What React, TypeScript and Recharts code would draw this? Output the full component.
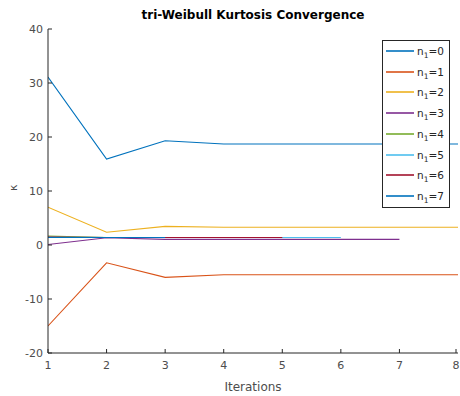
import { LineChart, Line, XAxis, YAxis, Legend } from 'recharts'

// iterations 1..8
const iterations = [1, 2, 3, 4, 5, 6, 7, 8]

// kurtosis per n1 case (shorter runs just stop early)
const n0 = [31.1, 15.9, 19.3, 18.7, 18.7, 18.7, 18.7, 18.7]
const n1 = [-15.0, -3.3, -6.0, -5.5, -5.5, -5.5, -5.5, -5.5]
const n2 = [7.0, 2.35, 3.45, 3.3, 3.3, 3.3, 3.3, 3.3]
const n3 = [0.1, 1.35, 1.05, 1.05, 1.05, 1.05, 1.05]
const n4 = [1.65, 1.4, 1.4]
const n5 = [1.45, 1.4, 1.4, 1.4, 1.4, 1.4]
const n6 = [1.45, 1.4, 1.4, 1.4, 1.4]
const n7 = [1.4, 1.38, 1.38]

const series = [n0, n1, n2, n3, n4, n5, n6, n7]
const labels = ['0', '1', '2', '3', '4', '5', '6', '7']
const COLORS = ['#0072BD', '#D95319', '#EDB120', '#7E2F8E', '#77AC30', '#4DBEEE', '#A2142F', '#0072BD']

const xTicks = [1, 2, 3, 4, 5, 6, 7, 8]
const yTicks = [-20, -10, 0, 10, 20, 30, 40]

const data = iterations.map((it, i) => {
  const row: Record<string, number | undefined> = { it }
  series.forEach((s, k) => { row['s' + k] = s[i] })
  return row
})

const FONT = '"DejaVu Sans", Verdana, sans-serif'
const AX = '#262626'
const TXT = '#4d4d4d'
const TL = 4 // tick length, drawn inward like matlab

const BottomTick = (p: any) => (
  <g>
    <line x1={p.x} x2={p.x} y1={p.y - 8} y2={p.y - 8 - TL} stroke={AX} />
    <text x={p.x} y={p.y} dy="0.71em" textAnchor="middle" fontSize={11} fill={TXT} fontFamily={FONT}>
      {p.payload.value}
    </text>
  </g>
)
const LeftTick = (p: any) => (
  <g>
    <line x1={p.x + 5} x2={p.x + 5 + TL} y1={p.y} y2={p.y} stroke={AX} />
    <text x={p.x} y={p.y} dy="0.355em" textAnchor="end" fontSize={11} fill={TXT} fontFamily={FONT}>
      {p.payload.value}
    </text>
  </g>
)
const TopTick = (p: any) => (
  <line x1={p.x} x2={p.x} y1={p.y} y2={p.y + TL} stroke={AX} />
)
const RightTick = (p: any) => (
  <line x1={p.x} x2={p.x - TL} y1={p.y} y2={p.y} stroke={AX} />
)

// matlab style legend box
const LegendBox = () => (
  <svg width={68} height={168} style={{ display: 'block' }}>
    <rect x={0.5} y={0.5} width={67} height={167} fill="#fff" stroke={AX} />
    {labels.map((l, k) => {
      const y = Math.round(11 + k * 20.7)
      return (
        <g key={k}>
          <line x1={4} x2={32} y1={y} y2={y} stroke={COLORS[k]} strokeWidth={1.6} />
          <text x={35} y={y} dy="0.35em" fontSize={10.5} fill="#262626" fontFamily={FONT}>
            n<tspan dy={3} fontSize={7.5}>1</tspan><tspan dy={-3}>={l}</tspan>
          </text>
        </g>
      )
    })}
  </svg>
)

export default function App() {
  return (
    <div style={{ position: 'absolute', left: 0, top: 0, width: 460, height: 396, background: '#fff' }}>
      <div style={{
        position: 'absolute', top: 8, left: 48, width: 410, textAlign: 'center',
        fontFamily: FONT, fontWeight: 'bold', fontSize: 12, color: '#000',
      }}>
        tri-Weibull Kurtosis Convergence
      </div>
      <LineChart width={460} height={396} data={data}
        margin={{ top: 29, right: 2, left: 8, bottom: 13 }}>
        <XAxis dataKey="it" type="number" domain={[1, 8]} ticks={xTicks} height={30}
          axisLine={{ stroke: AX }} tickLine={false} tickSize={0} tickMargin={8}
          tick={<BottomTick />} allowDataOverflow
          label={{ value: 'Iterations', position: 'insideBottom', offset: -8, fontSize: 12, fill: TXT, fontFamily: FONT }} />
        <XAxis xAxisId="top" orientation="top" dataKey="it" type="number" domain={[1, 8]} ticks={xTicks}
          height={0} axisLine={{ stroke: AX }} tickLine={false} tickSize={0} tickMargin={0}
          tick={<TopTick />} allowDataOverflow />
        <YAxis type="number" domain={[-20, 40]} ticks={yTicks} width={40}
          axisLine={{ stroke: AX }} tickLine={false} tickSize={0} tickMargin={5}
          tick={<LeftTick />} allowDataOverflow
          label={{ value: 'κ', angle: -90, position: 'insideLeft', offset: 5, fontSize: 11, fill: TXT, fontFamily: FONT }} />
        <YAxis yAxisId="right" orientation="right" type="number" domain={[-20, 40]} ticks={yTicks}
          width={0} axisLine={{ stroke: AX }} tickLine={false} tickSize={0} tickMargin={0}
          tick={<RightTick />} allowDataOverflow />
        <Legend layout="vertical" align="center" verticalAlign="middle" content={<LegendBox />}
          wrapperStyle={{ position: 'absolute', left: 382, top: 40, width: 68 }} />
        {series.map((_, k) => (
          <Line key={k} dataKey={'s' + k} name={'n1=' + labels[k]} stroke={COLORS[k]}
            strokeWidth={1.1} dot={false} isAnimationActive={false} />
        ))}
      </LineChart>
    </div>
  )
}
